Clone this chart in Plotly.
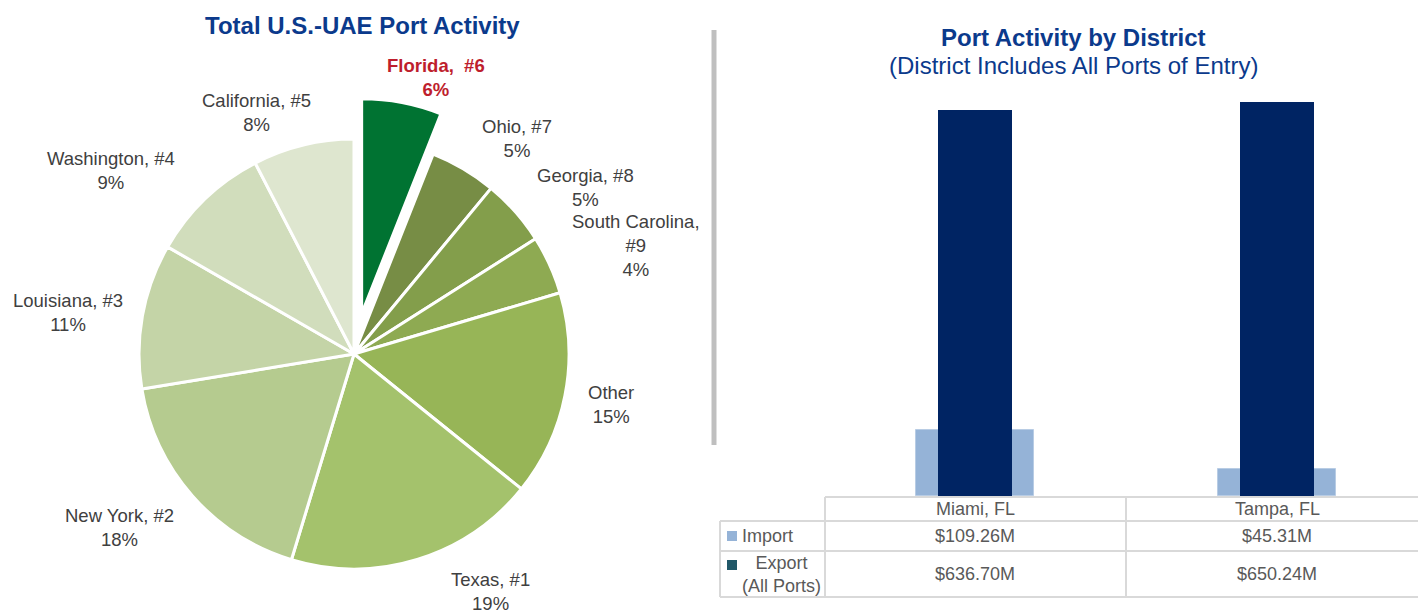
import plotly.graph_objects as go

# ---------------- data ----------------
states = ["Florida", "Ohio", "Georgia", "South Carolina", "Other", "Texas",
          "New York", "Louisiana", "Washington", "California"]
ranks = [6, 7, 8, 9, None, 1, 2, 3, 4, 5]
shares = [6.0, 5.0, 5.0, 4.4, 15.4, 18.9, 17.7, 10.9, 9.1, 7.6]
slice_colors = ["#007332", "#778D45", "#839E4B", "#8EAA52", "#97B557",
                "#A4C26C", "#B5CB8F", "#C4D4A7", "#D1DDBC", "#DEE6CF"]

districts = ["Miami, FL", "Tampa, FL"]
imports = [109.26, 45.31]
exports = [636.70, 650.24]
series_names = ["Import", "Export<br>(All Ports)"]

W, H = 1418, 614
def px(x):
    return x / W
def py(y):
    return 1 - y / H

FONT = "Liberation Sans, Arial, sans-serif"
NAVY_T = "#0B3A8C"
GREY_T = "#404040"

# label placement (pixel centres of each pie label block, layout only)
label_pos = {"Florida": (436, 77), "Ohio": (517, 138), "Georgia": (585, 187),
             "South Carolina": (636, 246), "Other": (611, 404), "Texas": (490, 591),
             "New York": (120, 527), "Louisiana": (68, 312), "Washington": (111, 170),
             "California": (256, 113)}

# ---------------- pie ----------------
pull = [0.19 if s == "Florida" else 0 for s in states]
cx, cy, R = 354, 354, 215
box = 2 * R * (1 + max(pull))

fig = go.Figure()
fig.add_trace(go.Pie(
    labels=states, values=shares, sort=False, direction="clockwise", rotation=0,
    marker=dict(colors=slice_colors, line=dict(color="white", width=3)),
    pull=pull, textinfo="none",
    domain=dict(x=[px(cx - box / 2), px(cx + box / 2)],
                y=[py(cy + box / 2), py(cy - box / 2)]),
    showlegend=False, hoverinfo="label+percent",
))

annotations = []
total = sum(shares)
for s, r, v in zip(states, ranks, shares):
    pct = "%d%%" % round(100 * v / total)
    if r is None:
        t = s + "<br>" + pct
    elif s == "South Carolina":
        t = s + ",<br>#" + str(r) + "<br>" + pct
    else:
        t = s + ", #" + str(r) + "<br>" + pct
    col = GREY_T
    if s == "Florida":
        t = "<b>" + t.replace(", #", ",  #") + "</b>"
        col = "#BE1E2D"
    lx, ly = label_pos[s]
    annotations.append(dict(x=px(lx), y=py(ly), xref="paper", yref="paper",
                            text=t, showarrow=False, align="center",
                            xanchor="center", yanchor="middle",
                            font=dict(family=FONT, size=18.5, color=col)))

# ---------------- bars ----------------
fig.add_trace(go.Bar(
    x=districts, y=imports, width=0.394, name="Import",
    marker=dict(color="#95B3D7", line=dict(color="#B8CCE4", width=1)),
    xaxis="x", yaxis="y", showlegend=False,
))
fig.add_trace(go.Bar(
    x=districts, y=exports, width=0.248, name="Export",
    marker=dict(color="#002463", line=dict(width=0)),
    xaxis="x", yaxis="y", showlegend=False,
))

x_left, x_right = 824, W
span = (x_right - x_left) / 302.0
fig.update_layout(
    width=W, height=H,
    margin=dict(l=0, r=0, t=0, b=0, pad=0, autoexpand=False),
    paper_bgcolor="white", plot_bgcolor="white",
    barmode="overlay", bargap=0,
    font=dict(family=FONT, color=GREY_T),
    xaxis=dict(domain=[px(x_left), 1], range=[-0.5, -0.5 + span],
               showticklabels=False, showgrid=False, zeroline=False,
               showline=False, ticks="", fixedrange=True),
    yaxis=dict(domain=[py(496), py(60)], range=[0, 720], visible=False,
               showgrid=False, zeroline=False, fixedrange=True),
)

# ---------------- table (shapes + annotations) ----------------
LINE = "#D9D9D9"
shapes = []
def hline(x0, x1, y):
    shapes.append(dict(type="line", xref="paper", yref="paper",
                       x0=px(x0), x1=px(x1), y0=py(y), y1=py(y),
                       line=dict(color=LINE, width=2)))
def vline(x, y0, y1):
    shapes.append(dict(type="line", xref="paper", yref="paper",
                       x0=px(x), x1=px(x), y0=py(y0), y1=py(y1),
                       line=dict(color=LINE, width=2)))

row_top, row_h1, row_h2, row_bot = 497, 521, 551, 597
hline(825, W, row_top)
hline(720, W, row_h1)
hline(720, W, row_h2)
hline(720, W, row_bot)
vline(720, row_h1, row_bot)
vline(825, row_top, row_bot)
vline(1126, row_top, row_bot)

# legend swatches
for (y0, y1, col) in [(531, 541, "#95B3D7"), (560, 570, "#215868")]:
    shapes.append(dict(type="rect", xref="paper", yref="paper",
                       x0=px(727), x1=px(737), y0=py(y1), y1=py(y0),
                       fillcolor=col, line=dict(width=0)))

# separator
shapes.append(dict(type="line", xref="paper", yref="paper",
                   x0=px(714), x1=px(714), y0=py(30), y1=py(445),
                   line=dict(color="#BFBFBF", width=5)))

TF = dict(family=FONT, size=18, color="#595959")
for d in districts:
    annotations.append(dict(x=d, xref="x", y=py((row_top + row_h1) / 2), yref="paper",
                            text=d, showarrow=False, font=TF,
                            xanchor="center", yanchor="middle"))
for d, v in zip(districts, imports):
    annotations.append(dict(x=d, xref="x", y=py((row_h1 + row_h2) / 2), yref="paper",
                            text="$%.2fM" % v, showarrow=False, font=TF,
                            xanchor="center", yanchor="middle"))
for d, v in zip(districts, exports):
    annotations.append(dict(x=d, xref="x", y=py((row_h2 + row_bot) / 2), yref="paper",
                            text="$%.2fM" % v, showarrow=False, font=TF,
                            xanchor="center", yanchor="middle"))
annotations.append(dict(x=px(740), xref="paper", y=py((row_h1 + row_h2) / 2), yref="paper",
                        text=series_names[0], showarrow=False, font=TF,
                        xanchor="left", yanchor="middle"))
annotations.append(dict(x=px(781), xref="paper", y=py((row_h2 + row_bot) / 2), yref="paper",
                        text=series_names[1], showarrow=False, font=TF,
                        xanchor="center", yanchor="middle", align="center"))

# titles
annotations.append(dict(x=px(362), y=py(25), xref="paper", yref="paper",
                        text="<b>Total U.S.-UAE Port Activity</b>", showarrow=False,
                        font=dict(family=FONT, size=24, color=NAVY_T),
                        xanchor="center", yanchor="middle"))
annotations.append(dict(x=px(1073), y=py(37), xref="paper", yref="paper",
                        text="<b>Port Activity by District</b>", showarrow=False,
                        font=dict(family=FONT, size=24, color=NAVY_T),
                        xanchor="center", yanchor="middle"))
annotations.append(dict(x=px(1073), y=py(65), xref="paper", yref="paper",
                        text="(District Includes All Ports of Entry)", showarrow=False,
                        font=dict(family=FONT, size=24, color=NAVY_T),
                        xanchor="center", yanchor="middle"))

fig.update_layout(shapes=shapes, annotations=annotations)
fig.write_html("out.html", config={"displayModeBar": False},
               post_script="document.body.style.margin='0';document.body.style.overflow='hidden';")
